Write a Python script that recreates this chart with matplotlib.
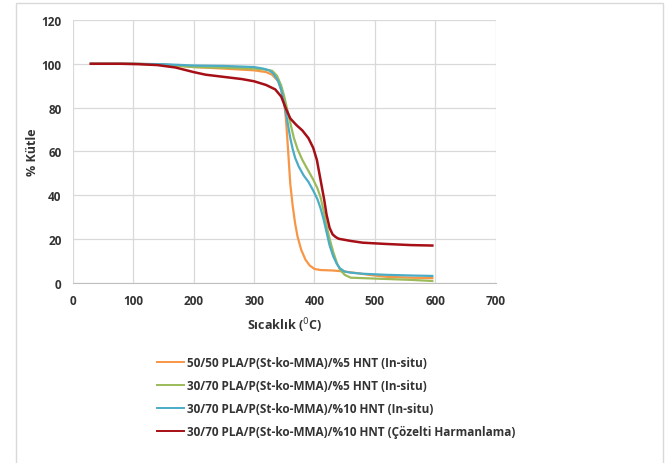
import numpy as np
import matplotlib.pyplot as plt
from matplotlib.patches import Rectangle

plt.rcParams['font.family'] = ['Open Sans', 'DejaVu Sans']

# veriler
t_orange = [30, 100, 150, 200, 250, 300, 320, 330, 340, 345, 350, 353, 356, 360, 364, 368,
            372, 378, 385, 392, 400, 410, 430, 450, 470, 490, 520, 560, 595]
m_orange = [100, 100, 99.7, 98.5, 97.8, 97, 96.2, 95, 92, 88, 82, 74, 62, 45, 35, 27,
            21, 15, 10.5, 7.8, 6.2, 5.7, 5.5, 5, 4.3, 3.5, 2.6, 2.2, 2]

t_green = [30, 100, 150, 200, 250, 300, 320, 330, 338, 345, 350, 355, 360, 366, 372, 380,
           390, 398, 405, 410, 415, 420, 425, 431, 437, 442, 450, 460, 480, 520, 560, 595]
m_green = [100, 100, 99.6, 98.5, 98.2, 97.8, 97.3, 96.8, 94.5, 90, 85, 79, 73, 66, 61, 56,
           51, 47, 43, 39, 33, 26, 20, 14, 9, 6, 3.5, 2.2, 2, 1.6, 1.2, 0.7]

t_blue = [30, 100, 150, 200, 250, 300, 315, 325, 332, 340, 345, 350, 355, 360, 364, 368,
          374, 382, 390, 398, 405, 410, 415, 420, 425, 431, 437, 442, 450, 460, 480, 520, 560, 595]
m_blue = [100, 100, 99.8, 99.2, 99, 98.5, 97.8, 97, 95.5, 92, 88, 82, 74, 66, 61, 57,
          53, 49, 46, 42, 38, 34, 29, 23, 17, 12, 8.5, 6.5, 5, 4.5, 4, 3.5, 3.2, 3]

t_red = [30, 80, 110, 140, 170, 200, 220, 250, 280, 300, 320, 335, 345, 352, 360, 370,
         380, 390, 398, 404, 408, 412, 416, 420, 425, 430, 435, 440, 460, 480, 520, 560, 595]
m_red = [100, 100, 99.8, 99.4, 98.3, 96.2, 95, 94, 93, 92, 90.3, 88.3, 85, 80, 75, 72,
         69.5, 66, 61.5, 56, 50, 44, 38, 31, 25, 22, 20.8, 20, 19, 18.2, 17.6, 17.1, 16.9]

labels = ['50/50 PLA/P(St-ko-MMA)/%5 HNT (In-situ)',
          '30/70 PLA/P(St-ko-MMA)/%5 HNT (In-situ)',
          '30/70 PLA/P(St-ko-MMA)/%10 HNT (In-situ)',
          '30/70 PLA/P(St-ko-MMA)/%10 HNT (Çözelti Harmanlama)']
colors = ['#f79646', '#9bbb59', '#4bacc6', '#a50f15']

fig = plt.figure(figsize=(6.7, 4.64), dpi=100)
ax = fig.add_axes([0.1085, 0.389, 0.6315, 0.5657])

ax.plot(t_orange, m_orange, color=colors[0], lw=1.6, label=labels[0])
ax.plot(t_green, m_green, color=colors[1], lw=1.6, label=labels[1])
ax.plot(t_blue, m_blue, color=colors[2], lw=1.6, label=labels[2])
ax.plot(t_red, m_red, color=colors[3], lw=1.8, label=labels[3])

ax.set_xlim(0, 700)
ax.set_ylim(0, 120)
ax.set_xticks(np.arange(0, 701, 100))
ax.set_yticks(np.arange(0, 121, 20))
ax.grid(True, color='#d9d9d9', lw=0.9)
ax.set_axisbelow(True)
for s in ['top', 'right', 'left']:
    ax.spines[s].set_visible(False)
ax.spines['bottom'].set_color('#bfbfbf')
ax.tick_params(length=0, labelsize=8.5, colors='#333333', pad=8)
for lb in ax.get_xticklabels() + ax.get_yticklabels():
    lb.set_fontweight('bold')

ax.set_xlabel('Sıcaklık ($^{0}$C)', fontsize=9, fontweight='bold', color='#333333', labelpad=6)
ax.set_ylabel('% Kütle', fontsize=9, fontweight='bold', color='#333333', labelpad=2)

leg = fig.legend(loc='upper left', bbox_to_anchor=(0.218, 0.253), frameon=False,
                 prop={'size': 8.5, 'weight': 'bold'}, handlelength=2.3, handletextpad=0.3,
                 labelspacing=0.85)
for txt in leg.get_texts():
    txt.set_color('#333333')
for ln in leg.get_lines():
    ln.set_linewidth(1.4)

fig.patches.append(Rectangle((16 / 670, -0.1), (663 - 16) / 670, 1.1 - 4 / 464,
                             transform=fig.transFigure, fill=False, ec='#d9d9d9', lw=1))

fig.savefig('out.png', dpi=100)
